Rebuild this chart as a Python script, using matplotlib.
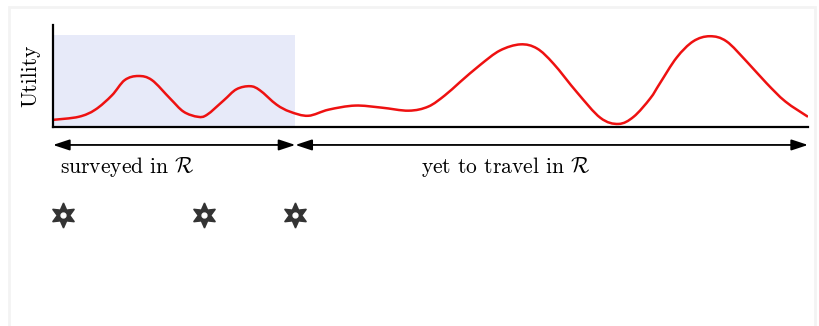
import matplotlib
matplotlib.use('Agg')
import matplotlib.pyplot as plt
import numpy as np
from matplotlib.patches import Rectangle, PathPatch
from matplotlib.path import Path

plt.rcParams['font.family'] = 'serif'
plt.rcParams['font.serif'] = ['cmr10', 'DejaVu Serif']
plt.rcParams['mathtext.fontset'] = 'cm'
plt.rcParams['axes.unicode_minus'] = False

# distance along the route and utility
distance = [0.00, 0.34, 0.56, 0.78, 0.95, 1.13, 1.31, 1.55, 1.73, 1.92, 2.04,
            2.26, 2.43, 2.61, 2.74, 2.96, 3.14, 3.38, 3.65, 4.00, 4.35, 4.71,
            4.97, 5.19, 5.39, 5.66, 5.92, 6.19, 6.41, 6.63, 6.94, 7.25, 7.49,
            7.69, 7.91, 8.04, 8.26, 8.48, 8.70, 8.92, 9.19, 9.45, 9.70, 10.0]
utility = [0.07, 0.10, 0.17, 0.31, 0.46, 0.50, 0.46, 0.28, 0.15, 0.10, 0.12,
           0.26, 0.37, 0.40, 0.36, 0.22, 0.15, 0.11, 0.17, 0.21, 0.19, 0.16,
           0.20, 0.31, 0.44, 0.61, 0.75, 0.81, 0.77, 0.62, 0.34, 0.09, 0.03,
           0.10, 0.28, 0.43, 0.68, 0.84, 0.89, 0.84, 0.64, 0.43, 0.25, 0.10]

surveyed_end = 3.21
route_end = 10.0
star_x = [0.13, 2.0, 3.21]
labels = ['surveyed in $\\mathcal{R}$', 'yet to travel in $\\mathcal{R}$']


def smooth_path(xs, ys):
    # catmull-rom through the points, drawn as cubic bezier segments
    p = np.column_stack([xs, ys])
    p = np.vstack([p[0], p, p[-1]])
    verts = [p[1]]
    codes = [Path.MOVETO]
    for i in range(1, len(p) - 2):
        c1 = p[i] + (p[i + 1] - p[i - 1]) / 6
        c2 = p[i + 1] - (p[i + 2] - p[i]) / 6
        verts += [c1, c2, p[i + 1]]
        codes += [Path.CURVE4] * 3
    return Path(verts, codes)


fig = plt.figure(figsize=(8.19, 3.26), dpi=100)
fig.patches.append(Rectangle((9 / 819, -0.1), 806 / 819, 1.08, transform=fig.transFigure,
                             fill=False, edgecolor='#f3f3f3', lw=2))

ax = fig.add_axes([53 / 819, 199 / 326, 755 / 819, 102 / 326])
ax.set_xlim(0, route_end)
ax.set_ylim(0, 1)

ax.axvspan(0, surveyed_end, ymax=0.9, color='#e7eaf9', lw=0)
ax.add_patch(PathPatch(smooth_path(distance, utility), fill=False,
                       edgecolor='#ee1111', lw=1.8))

for s in ['top', 'right']:
    ax.spines[s].set_visible(False)
for s in ['left', 'bottom']:
    ax.spines[s].set_linewidth(1.6)
ax.set_xticks([])
ax.set_yticks([])
ax.set_ylabel('Utility', fontsize=15.5, labelpad=9)

# span arrows
arr_y = -0.176
for a, b in [(0, surveyed_end), (surveyed_end, route_end)]:
    ax.annotate('', xy=(b, arr_y), xytext=(a, arr_y), annotation_clip=False,
                arrowprops=dict(arrowstyle='<|-|>,head_length=1.0,head_width=0.33',
                                color='black', lw=1.3, shrinkA=0, shrinkB=0))

ax.text(0.09, -0.39, labels[0], fontsize=15.5, ha='left', va='center')
ax.text(6.0, -0.39, labels[1], fontsize=15.5, ha='center', va='center')

# survey stations
star_y = [-0.86] * len(star_x)
ax.plot(star_x, star_y, ls='none', marker=(6, 1, 0), markersize=18,
        color='#333333', clip_on=False)
ax.plot(star_x, star_y, ls='none', marker='o', markersize=3.5,
        color='white', clip_on=False)

fig.savefig('out.png', dpi=100)
